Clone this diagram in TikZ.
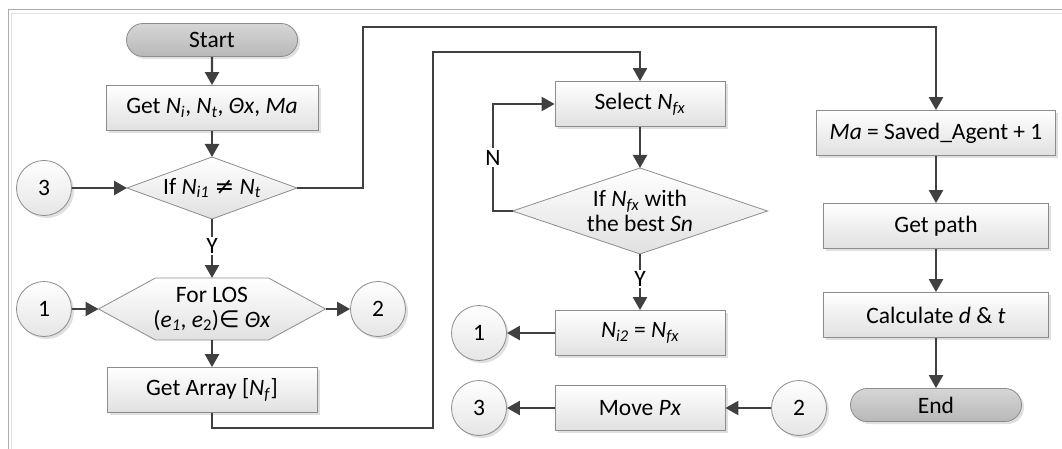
\documentclass[tikz,border=0pt]{standalone}
\usepackage{fontspec}
\setmainfont{Carlito}
\newfontfamily\symf{DejaVu Sans}
\usetikzlibrary{arrows.meta,shapes.misc,shadows,calc}
\definecolor{ln}{HTML}{404040}
\definecolor{bd}{HTML}{8C8C8C}
\tikzset{
  shd/.style={drop shadow={shadow xshift=2.5pt,shadow yshift=-2.5pt,fill=black,opacity=0.12}},
  proc/.style={draw=bd,line width=0.8pt,top color=white,bottom color=black!12,minimum height=45pt,inner sep=0pt,align=center,shd},
  term/.style={rounded rectangle,draw=bd,line width=0.8pt,top color=black!16,bottom color=black!28,minimum width=171pt,minimum height=33pt,inner sep=0pt,shd},
  conn/.style={circle,draw=bd,line width=0.8pt,top color=white,bottom color=black!10,minimum size=55pt,inner sep=0pt,shd},
  ghost/.style={inner sep=0pt,outer sep=0pt,align=center},
  shp/.style={draw=bd,line width=0.8pt,top color=white,bottom color=black!12},
  lbl/.style={fill=white,inner sep=1.5pt},
  flow/.style={draw=ln,line width=2.3pt,-{Triangle[length=13pt,width=14pt]}},
}
\newcommand{\Nsub}[2]{\textit{#1}\textsubscript{\textit{#2}}}
\begin{document}
\begin{tikzpicture}[x=1pt,y=-1pt,font=\fontsize{23.5pt}{25pt}\selectfont]
\useasboundingbox (0,0) rectangle (1062,449);
\draw[gray!65,line width=1pt] (8,449) -- (8,10) -- (1062,10);
\draw[gray!25,line width=0.8pt] (11.5,449) -- (11.5,13.5) -- (1062,13.5);

% column 1
\node[term] (start) at (212,40) {Start};
\node[proc,minimum width=212pt] (get) at (212,108) {Get \Nsub{N}{i}, \Nsub{N}{t}, \textit{Θx}, \textit{Ma}};
\node[ghost,minimum width=170pt,minimum height=62pt] (if1) at (212,188) {};
\node[ghost,minimum width=227pt,minimum height=62pt] (hex) at (212,309) {};
\node[proc,minimum width=210pt] (arr) at (212,390) {Get Array [\Nsub{N}{f}]};
\node[conn] (c3a) at (44,188) {3};
\node[conn] (c1a) at (44,309) {1};
\node[conn] (c2a) at (378,309) {2};

% column 2
\node[proc,minimum width=170pt] (sel) at (640,104) {Select \Nsub{N}{fx}};
\node[ghost,minimum width=255pt,minimum height=86pt] (if2) at (640,211) {};
\node[proc,minimum width=170pt] (ni2) at (640,333) {\Nsub{N}{i2} = \Nsub{N}{fx}};
\node[proc,minimum width=170pt] (move) at (640,408) {Move \textit{Px}};
\node[conn] (c1b) at (479,333) {1};
\node[conn] (c3b) at (479,408) {3};
\node[conn] (c2b) at (799,408) {2};

% column 3
\node[proc,minimum width=239pt] (ma) at (936,133) {\textit{Ma} = Saved\_Agent + 1};
\node[proc,minimum width=225pt] (gp) at (936,226) {Get path};
\node[proc,minimum width=225pt] (calc) at (936,315) {Calculate \textit{d} \& \textit{t}};
\node[term] (end) at (936,405) {End};

% decision / preparation shapes
\path[shp] (if1.west) -- (if1.north) -- (if1.east) -- (if1.south) -- cycle;
\path[shp] (if2.west) -- (if2.north) -- (if2.east) -- (if2.south) -- cycle;
\path[shp] (hex.west) -- ([xshift=57pt]hex.north west) -- ([xshift=-57pt]hex.north east) -- (hex.east) -- ([xshift=-57pt]hex.south east) -- ([xshift=57pt]hex.south west) -- cycle;
\node[ghost] (if1t) at (if1) {If \Nsub{N}{i1} {\symf ≠} \Nsub{N}{t}};
\node[ghost] (hext) at (hex) {For LOS\\(\Nsub{e}{1}, \textit{e}\textsubscript{2}){\symf ∈} \textit{Θx}};
\node[ghost] (if2t) at (if2) {If \Nsub{N}{fx} with\\the best \textit{Sn}};

% connectors
\coordinate (a1) at (433,428);
\coordinate (a2) at (433,52);
\coordinate (b1) at (363,27);
\coordinate (n1) at (493,211);
\draw[flow] (start) -- (get);
\draw[flow] (get) -- (if1.north);
\draw[flow] (c3a) -- (if1.west);
\draw[flow] (if1.south) -- node[lbl,pos=0.45] {Y} (hex.north);
\draw[flow] (c1a) -- (hex.west);
\draw[flow] (hex.east) -- (c2a);
\draw[flow] (hex.south) -- (arr);
\draw[flow] (arr.south) |- (a1) -- (a2) -| (sel.north);
\draw[flow] (sel) -- (if2.north);
\draw[flow] (if2.west) -- (n1) |- node[lbl,pos=0.25] {N} (sel.west);
\draw[flow] (if2.south) -- node[lbl,pos=0.45] {Y} (ni2.north);
\draw[flow] (ni2) -- (c1b);
\draw[flow] (move) -- (c3b);
\draw[flow] (c2b) -- (move);
\draw[flow] (if1.east) -| (b1) -| (ma.north);
\draw[flow] (ma) -- (gp);
\draw[flow] (gp) -- (calc);
\draw[flow] (calc) -- (end);
\end{tikzpicture}
\end{document}
